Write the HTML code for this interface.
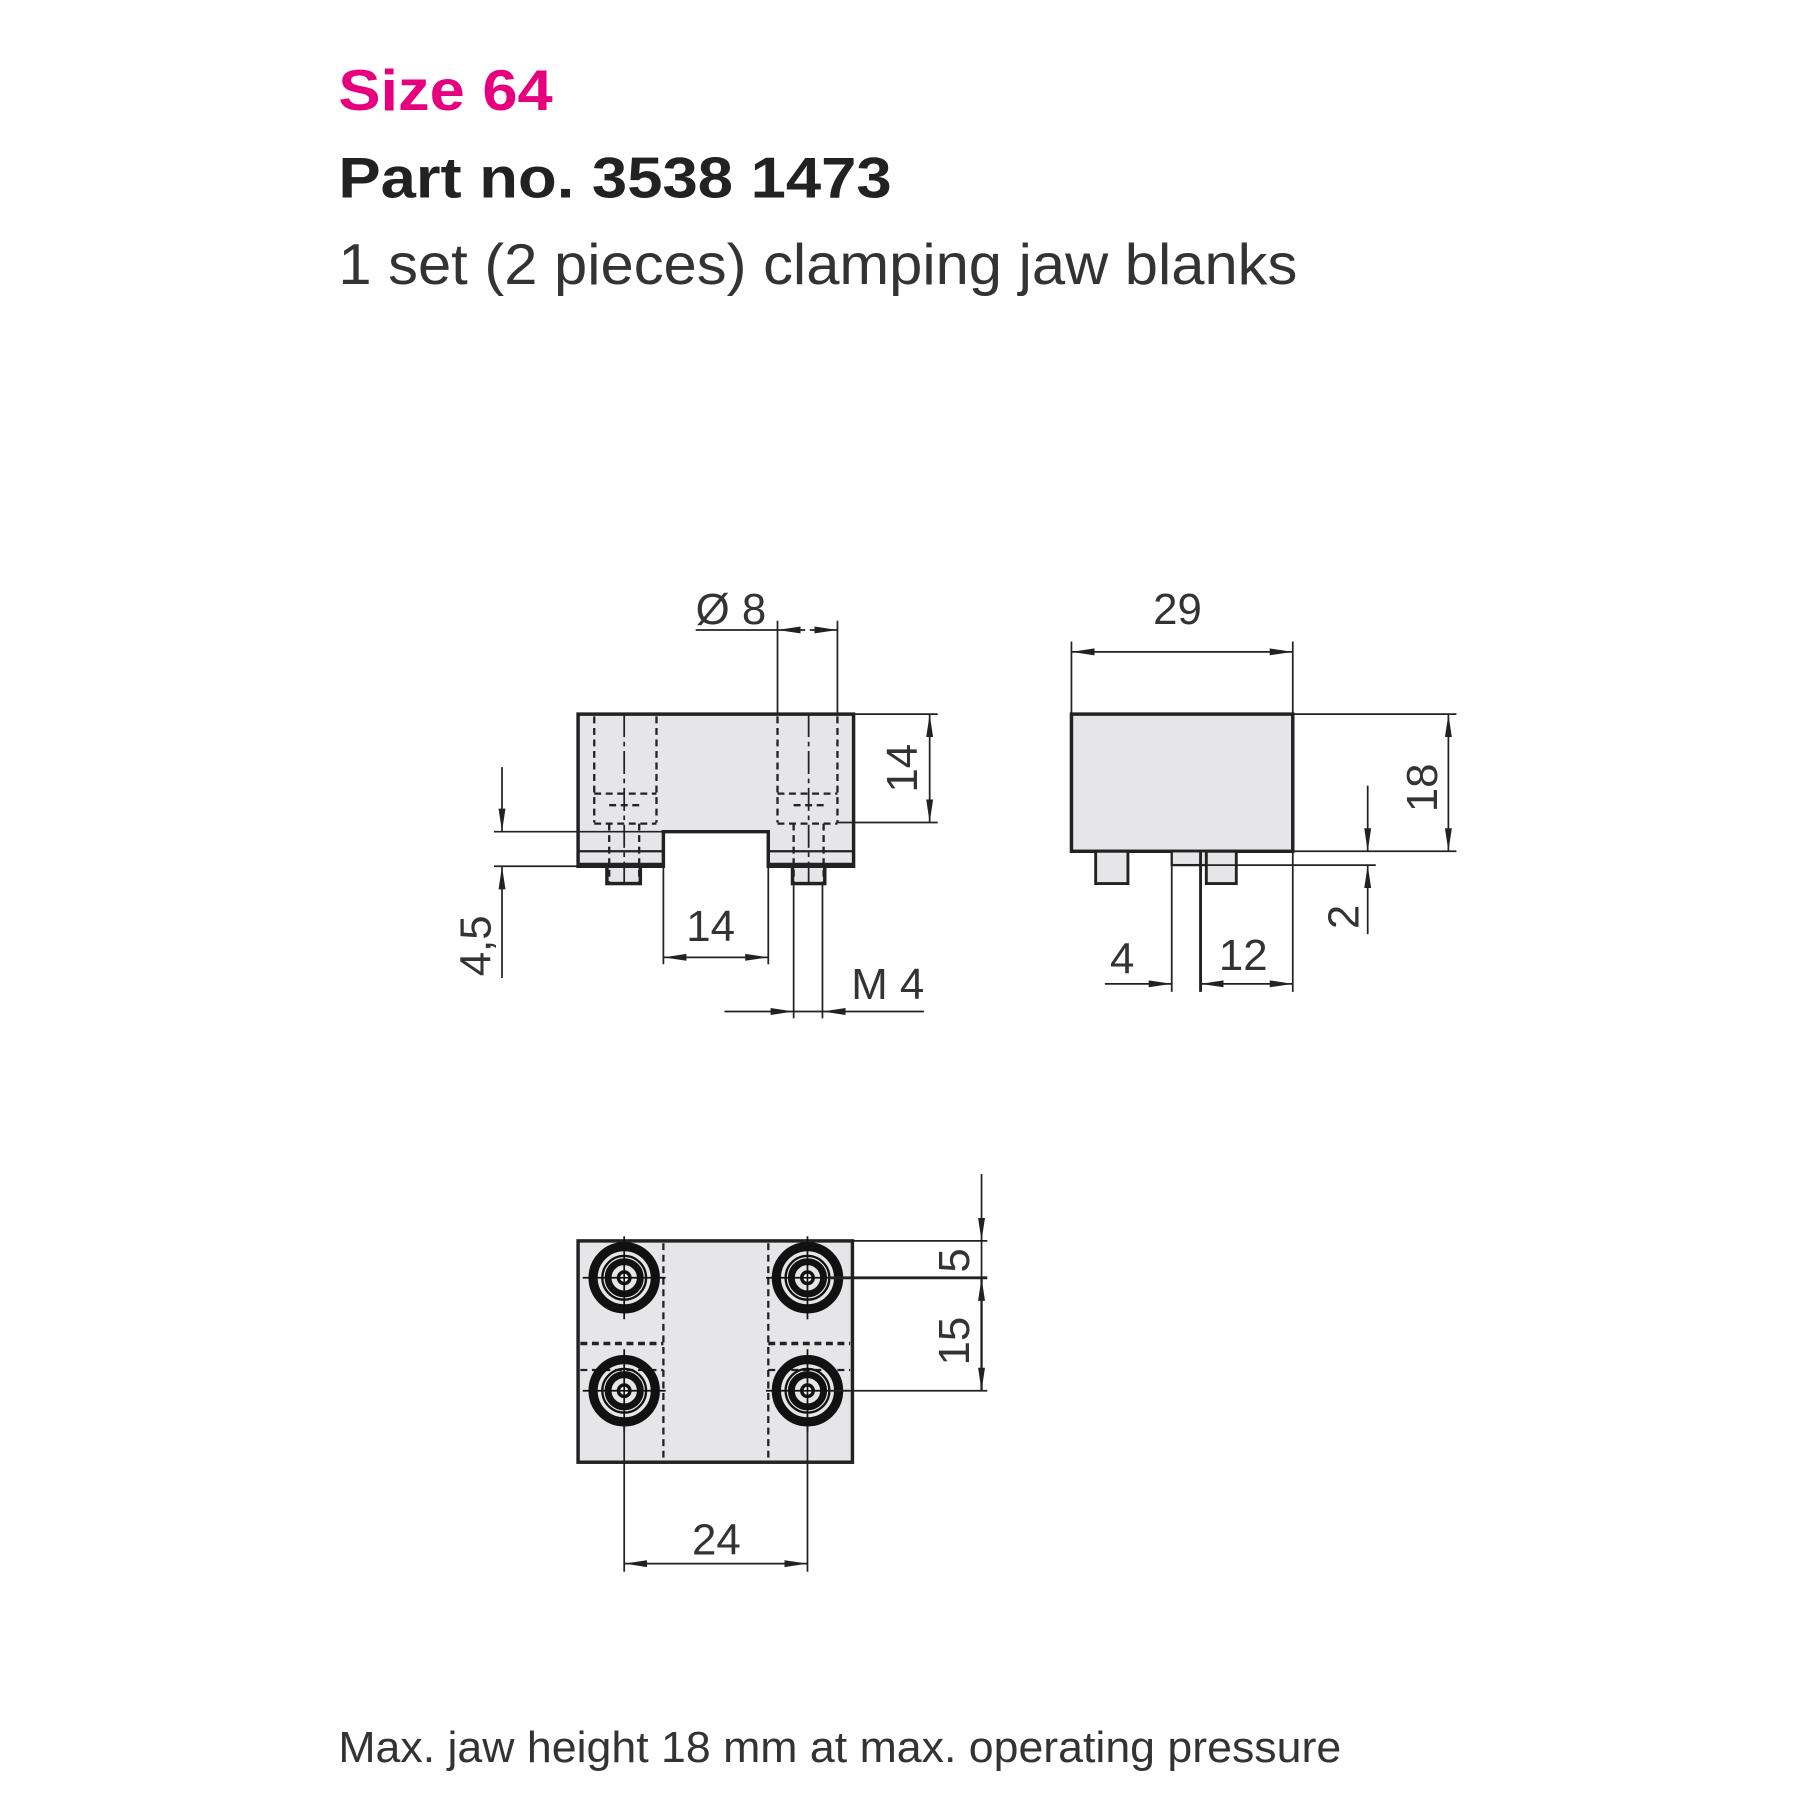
<!DOCTYPE html>
<html><head><meta charset="utf-8"><style>
html,body{margin:0;padding:0;background:#fff;}
svg{display:block;}
</style></head><body>
<svg width="1804" height="1804" viewBox="1.5 1.5 1565 1565" xmlns="http://www.w3.org/2000/svg" font-family="Liberation Sans, sans-serif">
<defs>
<marker id="a" viewBox="0 0 20 8" refX="20" refY="4" markerWidth="20" markerHeight="8" markerUnits="userSpaceOnUse" orient="auto-start-reverse"><path d="M0,1 L20,4 L0,7 Z" fill="#222"/></marker>
<g id="bolt">
<circle r="27" fill="none" stroke="#111" stroke-width="8"/>
<circle r="19" fill="none" stroke="#111" stroke-width="2"/>
<circle r="14" fill="none" stroke="#111" stroke-width="6"/>
<circle r="5" fill="#fff" stroke="#111" stroke-width="3"/>
<line x1="-36" y1="0" x2="36" y2="0" stroke="#111" stroke-width="1.5"/>
<line x1="0" y1="-36" x2="0" y2="36" stroke="#111" stroke-width="1.5"/>
</g>
</defs>
<rect x="-10" y="-10" width="1600" height="1600" fill="#fff"/>

<text x="295" y="97" font-size="50" font-weight="bold" fill="#e6007e" textLength="186" lengthAdjust="spacingAndGlyphs">Size 64</text>
<text x="295" y="173" font-size="50" font-weight="bold" fill="#222" textLength="480" lengthAdjust="spacingAndGlyphs">Part no. 3538 1473</text>
<text x="295" y="248" font-size="50" fill="#333" textLength="832" lengthAdjust="spacingAndGlyphs">1 set (2 pieces) clamping jaw blanks</text>
<text x="295" y="1530" font-size="38" fill="#333" textLength="870" lengthAdjust="spacingAndGlyphs">Max. jaw height 18 mm at max. operating pressure</text>

<g stroke="#222" fill="none">
<path d="M503,621 H742 V753 H668 V723 H577 V753 H503 Z" fill="#e6e6e8" stroke-width="3"/>
<line x1="503" y1="740" x2="577" y2="740" stroke-width="2"/>
<line x1="668" y1="740" x2="742" y2="740" stroke-width="2"/>
<line x1="503" y1="752" x2="577" y2="752" stroke-width="4"/>
<line x1="668" y1="752" x2="742" y2="752" stroke-width="4"/>
<rect x="528" y="753" width="29" height="15" fill="#e6e6e8" stroke-width="3"/>
<rect x="689" y="753" width="28" height="15" fill="#e6e6e8" stroke-width="3"/>
<g stroke-dasharray="6,4" stroke-width="2">
<line x1="517" y1="623" x2="517" y2="715"/><line x1="571" y1="623" x2="571" y2="715"/>
<line x1="676" y1="623" x2="676" y2="715"/><line x1="728" y1="623" x2="728" y2="715"/>
<line x1="517" y1="690" x2="571" y2="690"/><line x1="676" y1="690" x2="728" y2="690"/>
<line x1="517" y1="716" x2="571" y2="716"/><line x1="676" y1="716" x2="728" y2="716"/>
<line x1="530" y1="700" x2="556" y2="700"/><line x1="690" y1="700" x2="716" y2="700"/>
<line x1="530" y1="716" x2="530" y2="768"/><line x1="556" y1="716" x2="556" y2="768"/>
<line x1="690" y1="716" x2="690" y2="768"/><line x1="716" y1="716" x2="716" y2="768"/>
</g>
<line x1="543" y1="621" x2="543" y2="770" stroke-width="1.5" stroke-dasharray="20,4,4,4"/>
<line x1="703" y1="621" x2="703" y2="770" stroke-width="1.5" stroke-dasharray="20,4,4,4"/>
<g stroke-width="1.5">
<line x1="676" y1="540" x2="676" y2="621"/><line x1="728" y1="540" x2="728" y2="621"/>
<line x1="605" y1="548" x2="676" y2="548"/>
<line x1="700" y1="548" x2="676" y2="548" marker-end="url(#a)"/>
<line x1="704" y1="548" x2="728" y2="548" marker-end="url(#a)"/>
<line x1="742" y1="621" x2="815" y2="621"/><line x1="728" y1="715" x2="815" y2="715"/>
<line x1="808" y1="621" x2="808" y2="715" marker-start="url(#a)" marker-end="url(#a)"/>
<line x1="430" y1="723" x2="577" y2="723"/><line x1="430" y1="753" x2="503" y2="753"/>
<line x1="437" y1="667" x2="437" y2="723" marker-end="url(#a)"/>
<line x1="437" y1="850" x2="437" y2="753" marker-end="url(#a)"/>
<line x1="577" y1="753" x2="577" y2="838"/><line x1="668" y1="753" x2="668" y2="838"/>
<line x1="577" y1="832" x2="668" y2="832" marker-start="url(#a)" marker-end="url(#a)"/>
<line x1="690" y1="768" x2="690" y2="885"/><line x1="715" y1="768" x2="715" y2="885"/>
<line x1="630" y1="879" x2="690" y2="879" marker-end="url(#a)"/>
<line x1="803" y1="879" x2="715" y2="879" marker-end="url(#a)"/>
<line x1="690" y1="879" x2="715" y2="879"/>
</g>

<rect x="931" y="621" width="192" height="119" fill="#e6e6e8" stroke-width="3"/>
<rect x="952" y="740" width="28" height="28" fill="#e6e6e8" stroke-width="2.5"/>
<rect x="1018" y="740" width="30" height="12" fill="#e6e6e8" stroke-width="2"/>
<rect x="1048" y="740" width="26" height="28" fill="#e6e6e8" stroke-width="2.5"/>
<g stroke-width="1.5">
<line x1="931" y1="558" x2="931" y2="621"/><line x1="1123" y1="558" x2="1123" y2="862"/>
<line x1="931" y1="567" x2="1123" y2="567" marker-start="url(#a)" marker-end="url(#a)"/>
<line x1="1123" y1="621" x2="1265" y2="621"/><line x1="1123" y1="740" x2="1265" y2="740"/>
<line x1="1258" y1="621" x2="1258" y2="740" marker-start="url(#a)" marker-end="url(#a)"/>
<line x1="1048" y1="752" x2="1195" y2="752"/>
<line x1="1188" y1="683" x2="1188" y2="740" marker-end="url(#a)"/>
<line x1="1188" y1="812" x2="1188" y2="752" marker-end="url(#a)"/>
<line x1="1018" y1="752" x2="1018" y2="862"/><line x1="1043" y1="740" x2="1043" y2="862" stroke-width="2.5"/>
<line x1="960" y1="855" x2="1018" y2="855" marker-end="url(#a)"/>
<line x1="1043" y1="855" x2="1123" y2="855" marker-start="url(#a)" marker-end="url(#a)"/>
</g>

<rect x="503" y="1078" width="238" height="192" fill="#e6e6e8" stroke-width="3"/>
<g stroke-dasharray="6,4" stroke-width="2">
<line x1="577" y1="1080" x2="577" y2="1268"/><line x1="668" y1="1080" x2="668" y2="1268"/>
<line x1="505" y1="1167" x2="577" y2="1167" stroke-width="3"/><line x1="668" y1="1167" x2="739" y2="1167" stroke-width="3"/>
<line x1="505" y1="1190" x2="577" y2="1190"/><line x1="668" y1="1190" x2="739" y2="1190"/>
</g>
<use href="#bolt" x="543" y="1110"/>
<use href="#bolt" x="702" y="1110"/>
<use href="#bolt" x="543" y="1208"/>
<use href="#bolt" x="702" y="1208"/>
<g stroke-width="1.5">
<line x1="741" y1="1078" x2="858" y2="1078"/>
<line x1="720" y1="1110" x2="858" y2="1110" stroke-width="2.5"/>
<line x1="720" y1="1208" x2="858" y2="1208"/>
<line x1="853" y1="1020" x2="853" y2="1078" marker-end="url(#a)"/>
<line x1="853" y1="1078" x2="853" y2="1110"/>
<line x1="853" y1="1110" x2="853" y2="1208" marker-start="url(#a)" marker-end="url(#a)" stroke-width="2"/>
<line x1="543" y1="1238" x2="543" y2="1365"/><line x1="702" y1="1238" x2="702" y2="1365"/>
<line x1="543" y1="1358" x2="702" y2="1358" marker-start="url(#a)" marker-end="url(#a)"/>
</g>
</g>

<g fill="#333" font-size="38">
<text x="605" y="543">Ø 8</text>
<text transform="translate(797,668) rotate(-90)" text-anchor="middle">14</text>
<text transform="translate(427,822) rotate(-90)" text-anchor="middle">4,5</text>
<text x="618" y="818" text-anchor="middle">14</text>
<text x="740" y="868">M 4</text>
<text x="1023" y="543" text-anchor="middle">29</text>
<text transform="translate(1248,685) rotate(-90)" text-anchor="middle">18</text>
<text transform="translate(1180,797) rotate(-90)" text-anchor="middle">2</text>
<text x="975" y="846" text-anchor="middle">4</text>
<text x="1080" y="843" text-anchor="middle">12</text>
<text transform="translate(842,1095) rotate(-90)" text-anchor="middle">5</text>
<text transform="translate(842,1165) rotate(-90)" text-anchor="middle">15</text>
<text x="623" y="1350" text-anchor="middle">24</text>
</g>
</svg>
</body></html>
